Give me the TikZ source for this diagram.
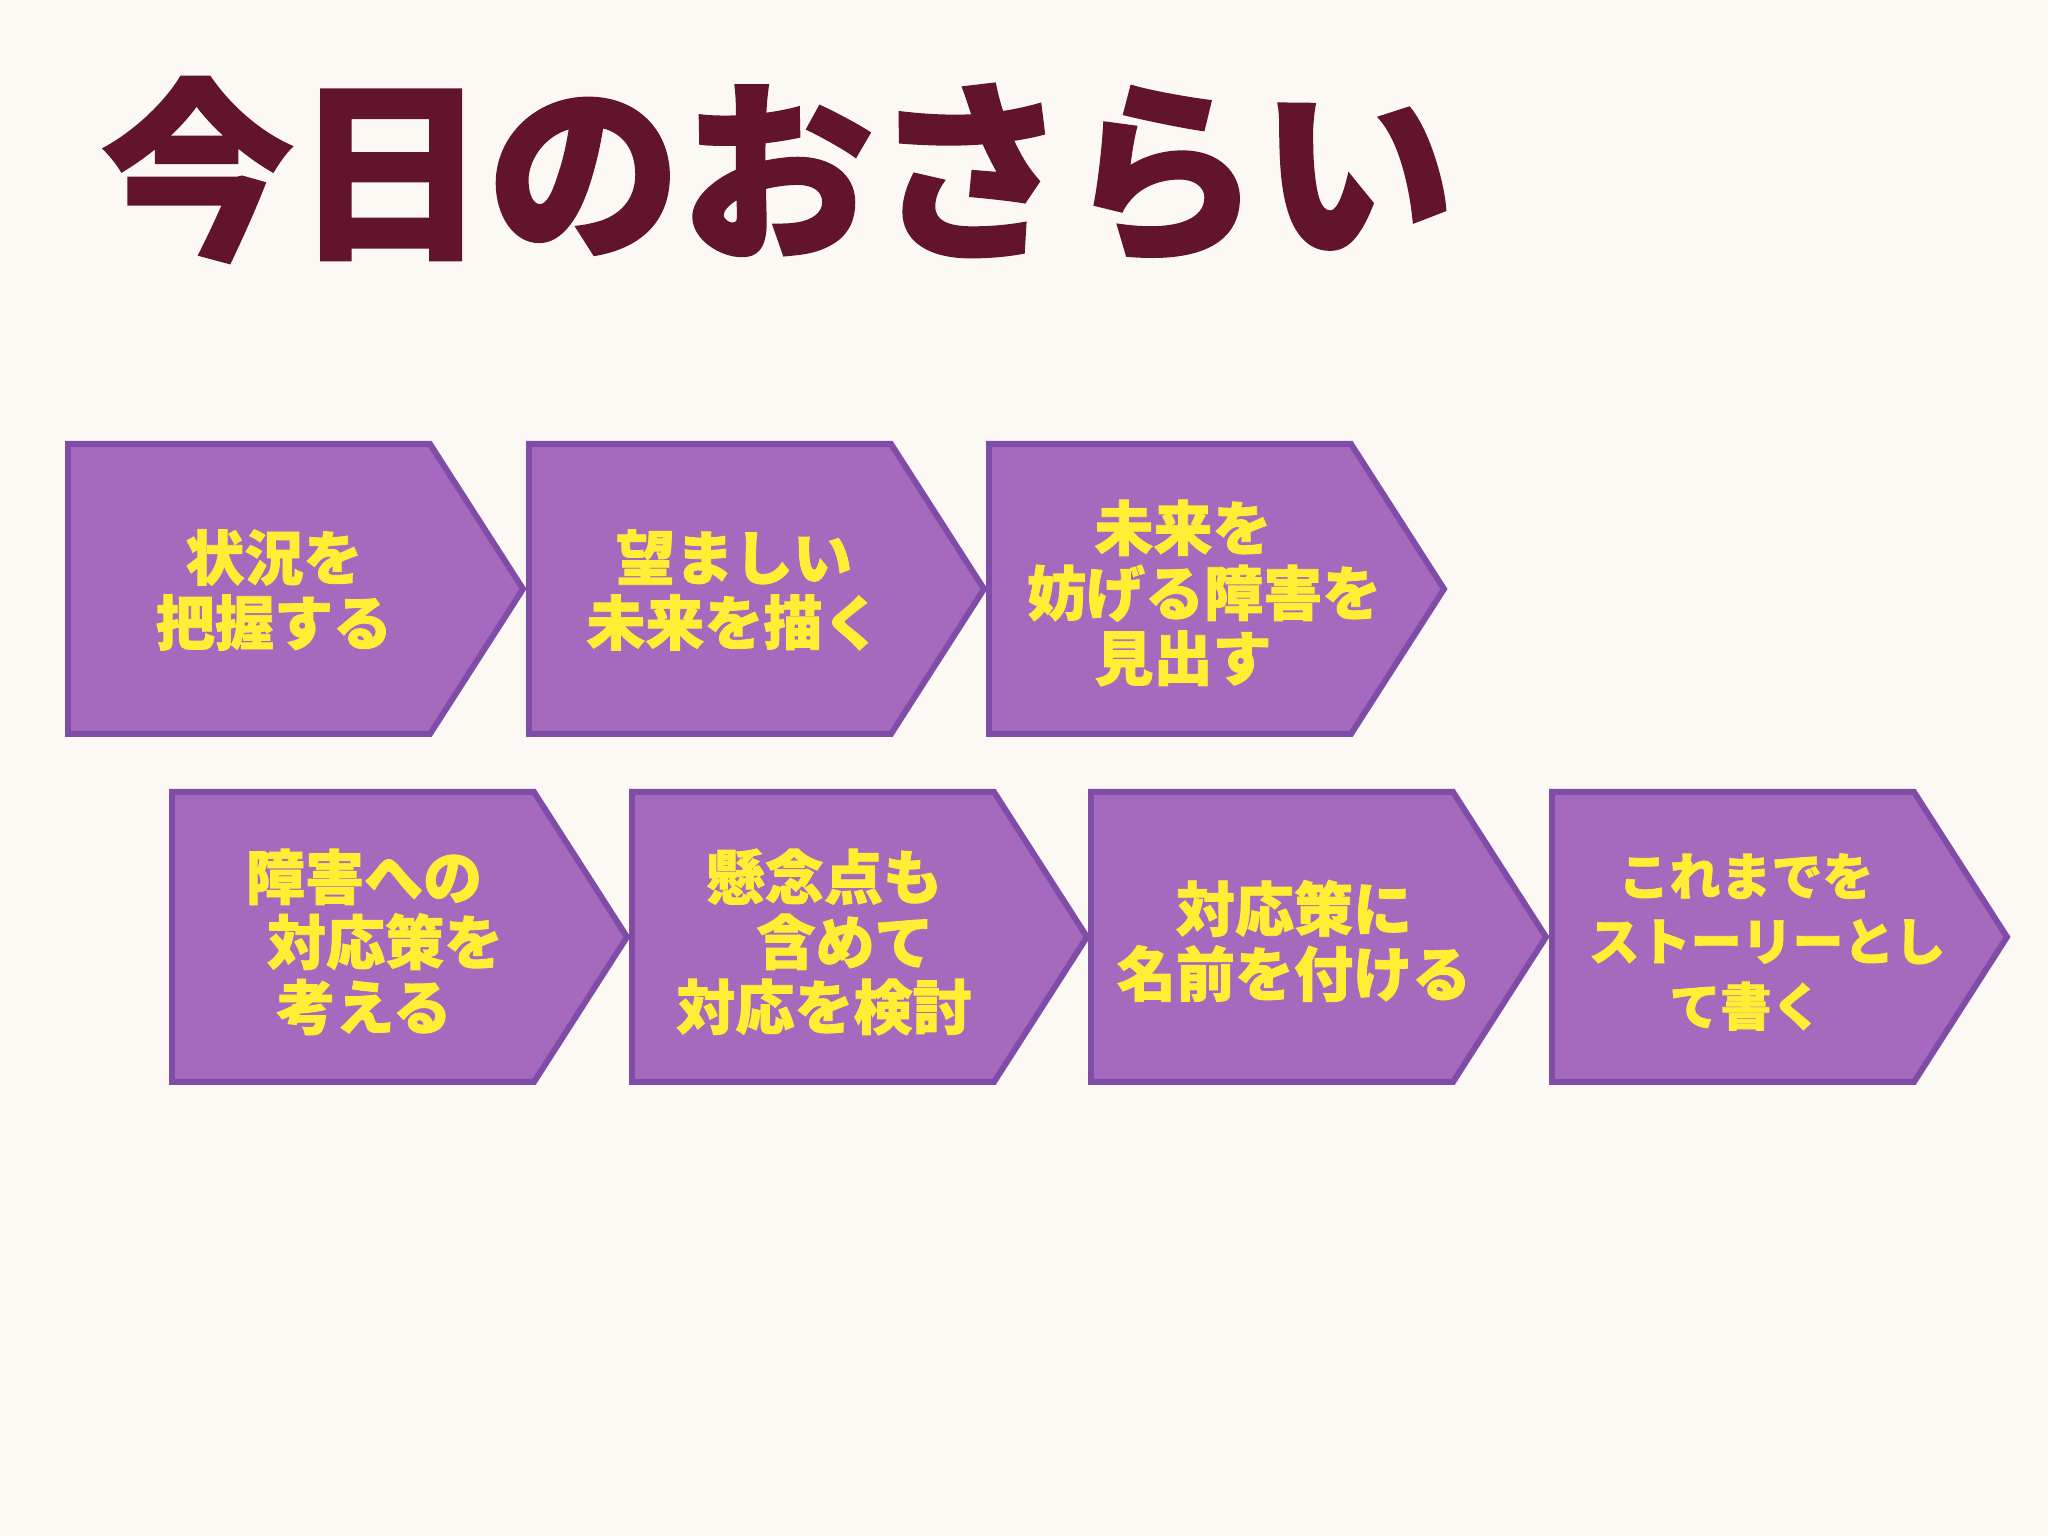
\documentclass[tikz,border=0pt]{standalone}
\usepackage{fontspec}
\newfontfamily\jpfont{Noto Sans CJK JP}[BoldFeatures={FakeBold=1.3}]
\definecolor{bgcol}{HTML}{FCF9F5}
\definecolor{titlecol}{HTML}{62142A}
\definecolor{chevfill}{HTML}{A56ABE}
\definecolor{chevline}{HTML}{7F4DA8}
\definecolor{chevtext}{HTML}{FFEE33}
\begin{document}
\begin{tikzpicture}[
  chev/.style={draw=chevline,fill=chevfill,line width=1.7pt,line join=miter},
  steptext/.style={text=chevtext,align=center,inner sep=0pt,
    font=\jpfont\bfseries\fontsize{16.8}{18.5}\selectfont},
  titletext/.style={text=titlecol,inner sep=0pt,
    font=\jpfont\bfseries\fontsize{55}{60}\selectfont}]
\fill[bgcol](0,0)rectangle(20.48,15.36);
\useasboundingbox(0,0)rectangle(20.48,15.36);
\node[titletext,anchor=west](title)at(1.00,13.66){今日のおさらい};
%
\draw[chev](0.68,8.02)--++(3.62,0)--++(0.93,1.45)--++(-0.93,1.45)--++(-3.62,0)--cycle;
\draw[chev](5.29,8.02)--++(3.62,0)--++(0.93,1.45)--++(-0.93,1.45)--++(-3.62,0)--cycle;
\draw[chev](9.89,8.02)--++(3.62,0)--++(0.93,1.45)--++(-0.93,1.45)--++(-3.62,0)--cycle;
%
\draw[chev](1.72,4.54)--++(3.62,0)--++(0.93,1.45)--++(-0.93,1.45)--++(-3.62,0)--cycle;
\draw[chev](6.32,4.54)--++(3.62,0)--++(0.93,1.45)--++(-0.93,1.45)--++(-3.62,0)--cycle;
\draw[chev](10.91,4.54)--++(3.62,0)--++(0.93,1.45)--++(-0.93,1.45)--++(-3.62,0)--cycle;
\draw[chev](15.52,4.54)--++(3.62,0)--++(0.93,1.45)--++(-0.93,1.45)--++(-3.62,0)--cycle;
%
\node[steptext](s1)at(2.74,9.46){状況を\\把握する};
\node[steptext](s2)at(7.34,9.46){望ましい\\未来を描く};
\node[steptext](s3)at(11.83,9.43){未来を\\\hspace*{12pt}妨げる障害を\\見出す};
\node[steptext](s4)at(3.64,5.94){障害への\\\hspace*{12pt}対応策を\\考える};
\node[steptext](s5)at(8.24,5.94){懸念点も\\\hspace*{12pt}含めて\\対応を検討};
\node[steptext](s6)at(12.94,5.95){対応策に\\名前を付ける};
\node[steptext,font=\jpfont\bfseries\fontsize{14.5}{18.5}\selectfont](s7)at(17.46,5.94){これまでを\\\hspace*{12pt}ストーリーとし\\て書く};
\end{tikzpicture}
\end{document}
